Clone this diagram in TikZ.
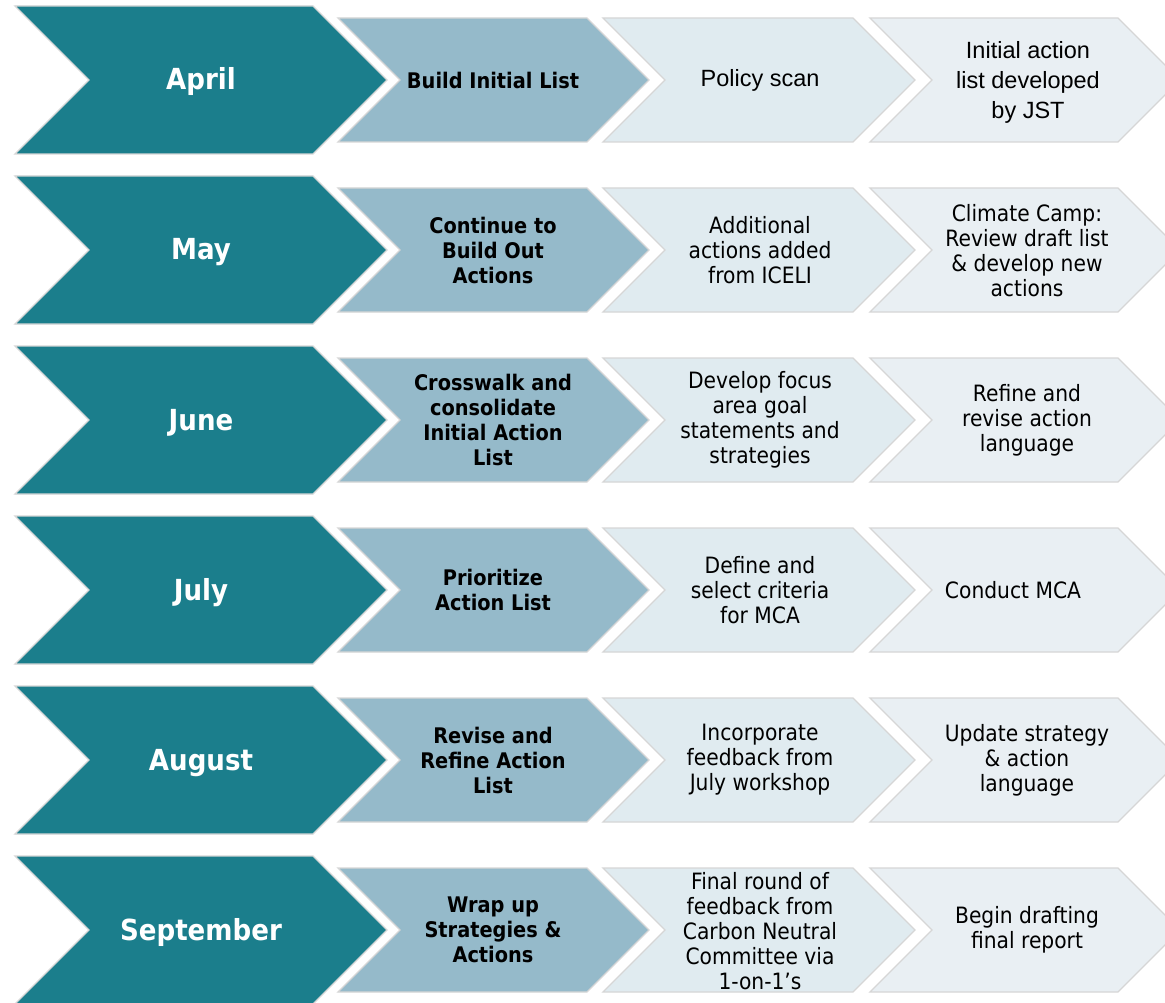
\documentclass[tikz,border=0pt]{standalone}
\usepackage{fontspec}
\newfontfamily\tahoma[FakeStretch=0.9]{DejaVu Sans}
\newfontfamily\arial{Liberation Sans}
\definecolor{monthteal}{HTML}{1B7E8C}
\definecolor{stepblue}{HTML}{95BACA}
\definecolor{steppale}{HTML}{E0EBF0}
\definecolor{stepmist}{HTML}{E9EFF3}

\begin{document}
\begin{tikzpicture}[x=1pt, y=-1pt,
  chev/.style={draw=black!16, line width=1.3pt, line join=miter},
  month/.style={white, anchor=base, inner sep=0pt, font=\tahoma\bfseries\fontsize{29}{34}\selectfont},
  task/.style={align=center, inner sep=0pt, font=\tahoma\bfseries\fontsize{21.5}{25}\selectfont},
  work/.style={align=center, inner sep=0pt, font=\tahoma\fontsize{22.5}{25}\selectfont},
  arialtext/.style={align=center, inner sep=0pt, font=\arial\fontsize{23.5}{30}\selectfont}]

\path[use as bounding box, clip] (0,0) rectangle (1165,1003);
\fill[white] (0,0) rectangle (1165,1003);

% one row of chevrons every 170pt
\foreach \y in {80,250,420,590,760,930} {
  \filldraw[chev, fill=monthteal] (15,\y-74) -- (313,\y-74) -- (387,\y) -- (313,\y+74) -- (15,\y+74) -- (89,\y) -- cycle;
  \filldraw[chev, fill=stepblue] (338,\y-62) -- (587,\y-62) -- (649,\y) -- (587,\y+62) -- (338,\y+62) -- (400,\y) -- cycle;
  \filldraw[chev, fill=steppale] (603,\y-62) -- (853,\y-62) -- (915,\y) -- (853,\y+62) -- (603,\y+62) -- (665,\y) -- cycle;
  \filldraw[chev, fill=stepmist] (870,\y-62) -- (1118,\y-62) -- (1180,\y) -- (1118,\y+62) -- (870,\y+62) -- (932,\y) -- cycle;
}

% April
\node[month] (apr) at (201,90) {April};
\node[task] (apr1) at (493,80) {Build Initial List};
\node[arialtext] (apr2) at (760,80) {Policy scan};
\node[arialtext] (apr3) at (1028,82) {Initial action\\list developed\\by JST};

% May
\node[month] (may) at (201,260) {May};
\node[task] (may1) at (493,250) {Continue to\\Build Out\\Actions};
\node[work] (may2) at (760,250) {Additional\\actions added\\from ICELI};
\node[work] (may3) at (1027,251) {Climate Camp:\\Review draft list\\\& develop new\\actions};

% June
\node[month] (jun) at (201,430) {June};
\node[task] (jun1) at (493,420) {Crosswalk and\\consolidate\\Initial Action\\List};
\node[work] (jun2) at (760,420) {Develop focus\\area goal\\statements and\\strategies};
\node[work] (jun3) at (1027,420) {Refine and\\revise action\\language};

% July
\node[month] (jul) at (201,600) {July};
\node[task] (jul1) at (493,590) {Prioritize\\Action List};
\node[work] (jul2) at (760,590) {Define and\\select criteria\\for MCA};
\node[work] (jul3) at (1013,590) {Conduct MCA};

% August
\node[month] (aug) at (201,770) {August};
\node[task] (aug1) at (493,760) {Revise and\\Refine Action\\List};
\node[work] (aug2) at (760,760) {Incorporate\\feedback from\\July workshop};
\node[work] (aug3) at (1027,760) {Update strategy\\\& action\\language};

% September
\node[month] (sep) at (201,940) {September};
\node[task] (sep1) at (493,930) {Wrap up\\Strategies \&\\Actions};
\node[work] (sep2) at (760,931) {Final round of\\feedback from\\Carbon Neutral\\Committee via\\1-on-1’s};
\node[work] (sep3) at (1027,930) {Begin drafting\\final report};
\end{tikzpicture}
\end{document}
